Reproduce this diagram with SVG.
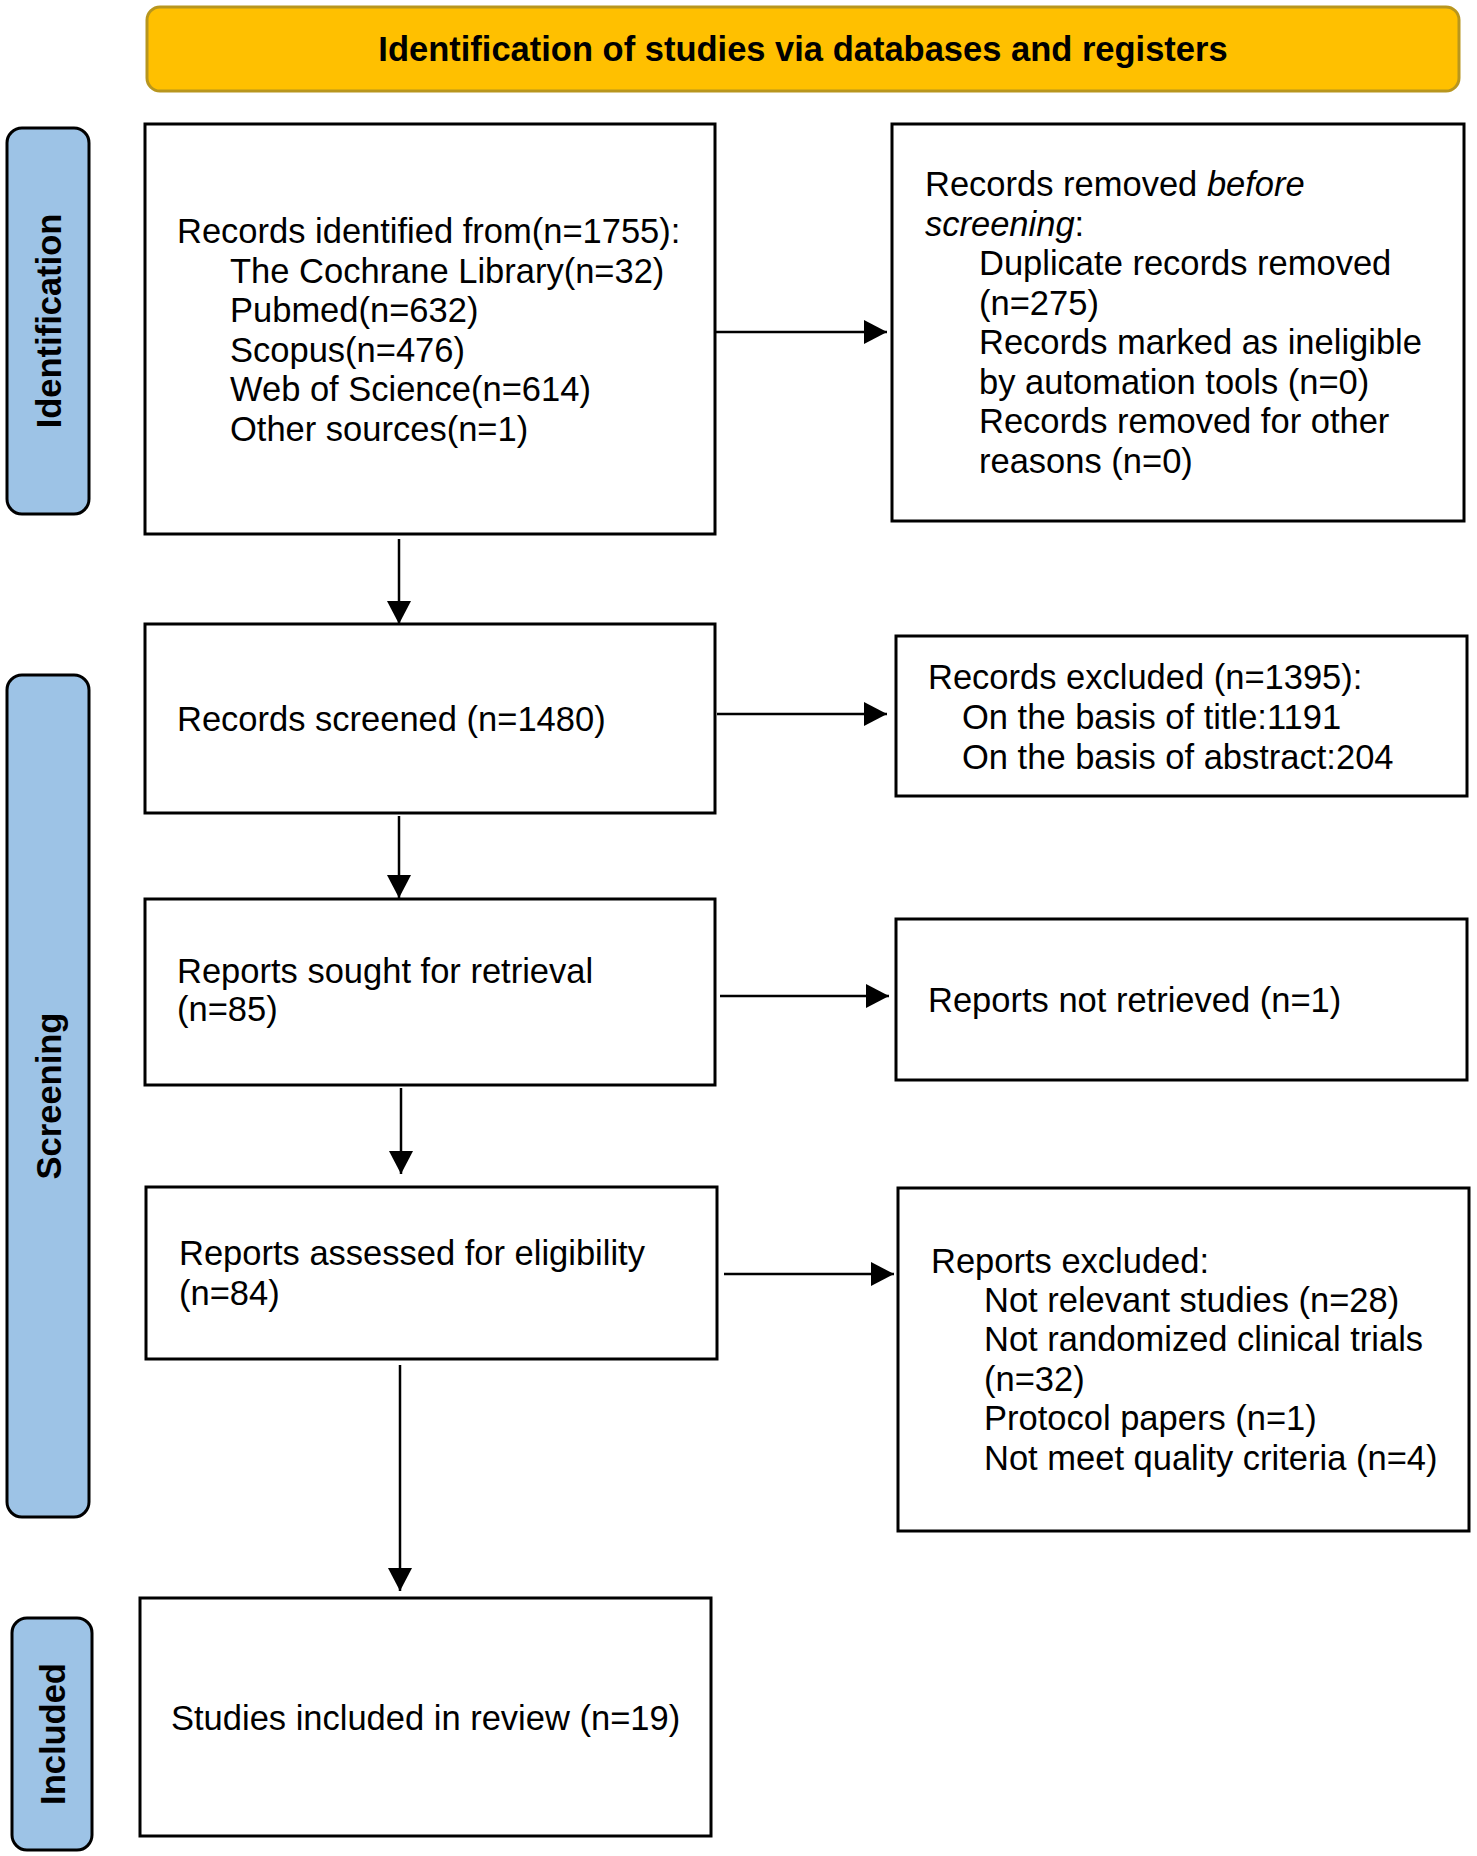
<svg xmlns="http://www.w3.org/2000/svg" width="1477" height="1856" viewBox="0 0 1477 1856">
  <defs>
    <style>
      .box { fill: #ffffff; stroke: #000000; stroke-width: 3; }
      .side { fill: #9DC3E6; stroke: #000000; stroke-width: 3; }
      .title { fill: #FFC000; stroke: #B8961E; stroke-width: 3; }
      .t { font-family: "Liberation Sans", Arial, sans-serif; font-size: 34.5px; fill: #000000; }
      .b { font-family: "Liberation Sans", Arial, sans-serif; font-size: 34.5px; font-weight: bold; fill: #000000; }
      .conn { stroke: #000000; stroke-width: 2.5; fill: none; marker-end: url(#arrow); }
    </style>
    <marker id="arrow" markerUnits="userSpaceOnUse" markerWidth="24" markerHeight="24" refX="23" refY="12" orient="auto">
      <path d="M0,0 L23,12 L0,24 Z" fill="#000000"/>
    </marker>
  </defs>
  <rect width="1477" height="1856" fill="#ffffff"/>

  <g id="header">
    <rect class="title" x="147" y="7" width="1312" height="84" rx="13" ry="13"/>
    <text class="b" x="803" y="61" text-anchor="middle">Identification of studies via databases and registers</text>
  </g>

  <g id="phase-identification">
    <rect class="side" x="7" y="128" width="82" height="386" rx="15" ry="15"/>
    <text class="b" x="0" y="0" text-anchor="middle" transform="translate(60.5,321) rotate(-90)">Identification</text>
  </g>
  <g id="phase-screening">
    <rect class="side" x="7" y="675" width="82" height="842" rx="15" ry="15"/>
    <text class="b" x="0" y="0" text-anchor="middle" transform="translate(60.5,1096) rotate(-90)">Screening</text>
  </g>
  <g id="phase-included">
    <rect class="side" x="12" y="1618" width="80" height="232" rx="15" ry="15"/>
    <text class="b" x="0" y="0" text-anchor="middle" transform="translate(65,1734) rotate(-90)">Included</text>
  </g>

  <g id="connectors">
    <line class="conn" x1="715" y1="332" x2="887" y2="332"/>
    <line class="conn" x1="399" y1="539" x2="399" y2="624"/>
    <line class="conn" x1="717" y1="714" x2="887" y2="714"/>
    <line class="conn" x1="399" y1="816" x2="399" y2="898"/>
    <line class="conn" x1="720" y1="996" x2="889" y2="996"/>
    <line class="conn" x1="401" y1="1088" x2="401" y2="1174"/>
    <line class="conn" x1="724" y1="1274" x2="894" y2="1274"/>
    <line class="conn" x1="400" y1="1365" x2="400" y2="1591"/>
  </g>

  <g id="records-identified">
    <rect class="box" x="145" y="124" width="570" height="410"/>
    <text class="t" x="177" y="243">Records identified from(n=1755):</text>
    <text class="t" x="230" y="282.5">The Cochrane Library(n=32)</text>
    <text class="t" x="230" y="322">Pubmed(n=632)</text>
    <text class="t" x="230" y="361.5">Scopus(n=476)</text>
    <text class="t" x="230" y="401">Web of Science(n=614)</text>
    <text class="t" x="230" y="440.5">Other sources(n=1)</text>
  </g>

  <g id="records-removed">
    <rect class="box" x="892" y="124" width="572" height="397"/>
    <text class="t" x="925" y="196">Records removed <tspan font-style="italic">before</tspan></text>
    <text class="t" x="925" y="235.5"><tspan font-style="italic">screening</tspan>:</text>
    <text class="t" x="979" y="275">Duplicate records removed</text>
    <text class="t" x="979" y="314.5">(n=275)</text>
    <text class="t" x="979" y="354">Records marked as ineligible</text>
    <text class="t" x="979" y="393.5">by automation tools (n=0)</text>
    <text class="t" x="979" y="433">Records removed for other</text>
    <text class="t" x="979" y="472.5">reasons (n=0)</text>
  </g>

  <g id="records-screened">
    <rect class="box" x="145" y="624" width="570" height="189"/>
    <text class="t" x="177" y="731">Records screened (n=1480)</text>
  </g>

  <g id="records-excluded">
    <rect class="box" x="896" y="636" width="571" height="160"/>
    <text class="t" x="928" y="688.5">Records excluded (n=1395):</text>
    <text class="t" x="962" y="728.5">On the basis of title:1191</text>
    <text class="t" x="962" y="769">On the basis of abstract:204</text>
  </g>

  <g id="reports-sought">
    <rect class="box" x="145" y="899" width="570" height="186"/>
    <text class="t" x="177" y="983">Reports sought for retrieval</text>
    <text class="t" x="177" y="1021">(n=85)</text>
  </g>

  <g id="reports-not-retrieved">
    <rect class="box" x="896" y="919" width="571" height="161"/>
    <text class="t" x="928" y="1012">Reports not retrieved (n=1)</text>
  </g>

  <g id="reports-assessed">
    <rect class="box" x="146" y="1187" width="571" height="172"/>
    <text class="t" x="179" y="1265">Reports assessed for eligibility</text>
    <text class="t" x="179" y="1305">(n=84)</text>
  </g>

  <g id="reports-excluded">
    <rect class="box" x="898" y="1188" width="571" height="343"/>
    <text class="t" x="931" y="1272.5">Reports excluded:</text>
    <text class="t" x="984" y="1311.5">Not relevant studies (n=28)</text>
    <text class="t" x="984" y="1351">Not randomized clinical trials</text>
    <text class="t" x="984" y="1390.5">(n=32)</text>
    <text class="t" x="984" y="1430">Protocol papers (n=1)</text>
    <text class="t" x="984" y="1469.5">Not meet quality criteria (n=4)</text>
  </g>

  <g id="studies-included">
    <rect class="box" x="140" y="1598" width="571" height="238"/>
    <text class="t" x="171" y="1730">Studies included in review (n=19)</text>
  </g>
</svg>
